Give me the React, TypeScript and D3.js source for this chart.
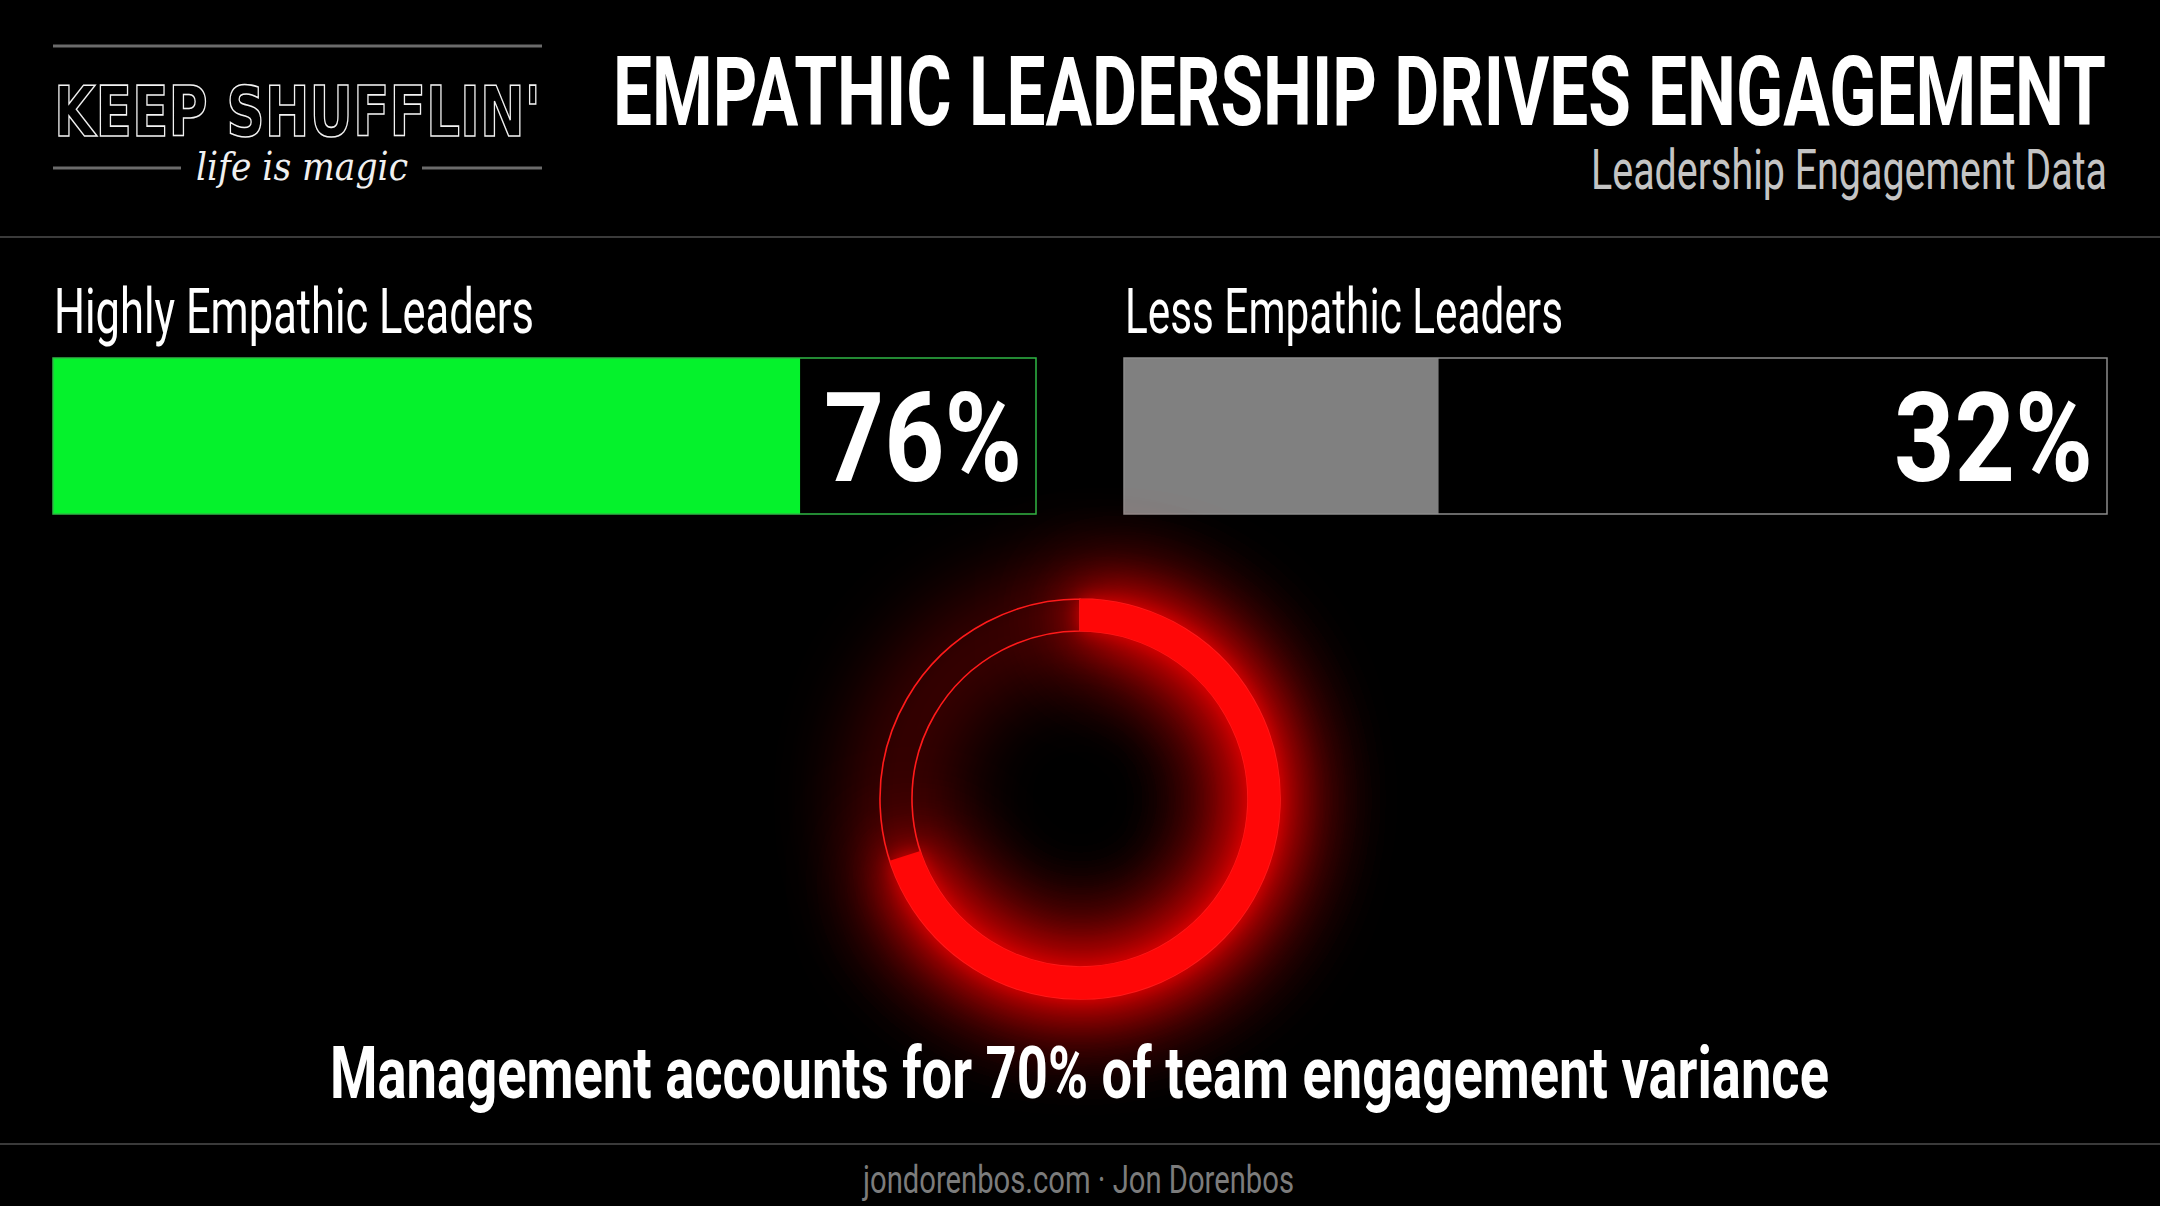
import React, { useEffect } from "react";
import * as d3 from "d3";

// ---- data ----
const groupLabels = ["Highly Empathic Leaders", "Less Empathic Leaders"];
const engagementPct = [76, 32];
const groupColors = ["#05f22c", "#808080"];
const groupBorders = ["#2fb845", "#8c8c8c"];
const varianceShare = [70];
const titleText = "EMPATHIC LEADERSHIP DRIVES ENGAGEMENT";
const subtitleText = "Leadership Engagement Data";
const captionText = "Management accounts for 70% of team engagement variance";
const footerText = "jondorenbos.com · Jon Dorenbos";

const W = 2160;
const H = 1206;
const FONT = "Roboto, 'Noto Sans', 'DejaVu Sans', sans-serif";

export default function App() {
  useEffect(() => {
    document.body.style.margin = "0";
    document.body.style.background = "#000";
  }, []);

  // bar layout
  const boxX = [53, 1124];
  const boxW = 983;
  const boxY = 358;
  const boxH = 156;
  const x = d3.scaleLinear().domain([0, 100]).range([0, boxW]);

  const labelW = [480, 438];
  const pctW = [198, 199];

  // donut
  const cx = 1080;
  const cy = 799;
  const rOuter = 200;
  const rInner = 168;
  const angle = d3.scaleLinear().domain([0, 100]).range([0, 2 * Math.PI]);
  const arcGen = d3.arc<any>().innerRadius(rInner).outerRadius(rOuter);
  const trackPath = arcGen({ startAngle: 0, endAngle: 2 * Math.PI - 0.0001 }) as string;
  const fillPath = arcGen({ startAngle: 0, endAngle: angle(varianceShare[0]) }) as string;

  return (
    <svg
      width={W}
      height={H}
      viewBox={`0 0 ${W} ${H}`}
      style={{ position: "absolute", left: 0, top: 0, background: "#000" }}
    >
      <defs>
        <filter id="glowHuge" x="-100%" y="-100%" width="300%" height="300%">
          <feGaussianBlur stdDeviation="50" />
          <feComponentTransfer>
            <feFuncA type="linear" slope="2.2" />
          </feComponentTransfer>
        </filter>
        <filter id="glowWide" x="-100%" y="-100%" width="300%" height="300%">
          <feGaussianBlur stdDeviation="24" />
          <feComponentTransfer>
            <feFuncA type="linear" slope="1.4" />
          </feComponentTransfer>
        </filter>
        <filter id="glowNear" x="-100%" y="-100%" width="300%" height="300%">
          <feGaussianBlur stdDeviation="8" />
        </filter>
      </defs>
      <rect x={0} y={0} width={W} height={H} fill="#000" />

      {/* logo */}
      <g>
        <line x1={53} x2={542} y1={46} y2={46} stroke="#6b6b6b" strokeWidth={3} />
        <text
          x={54}
          y={136}
          fontFamily="'DejaVu Sans', Verdana, sans-serif"
          fontWeight={700}
          fontSize={70}
          fill="none"
          stroke="#f2f2f2"
          strokeWidth={1.6}
          textLength={487}
          lengthAdjust="spacingAndGlyphs"
        >
          KEEP SHUFFLIN'
        </text>
        <line x1={53} x2={181} y1={168} y2={168} stroke="#6b6b6b" strokeWidth={3} />
        <line x1={422} x2={542} y1={168} y2={168} stroke="#6b6b6b" strokeWidth={3} />
        <text
          x={196}
          y={180}
          fontFamily="'DejaVu Serif', 'Liberation Serif', serif"
          fontStyle="italic"
          fontWeight={300}
          fontSize={40}
          fill="#f0f0f0"
          textLength={212}
          lengthAdjust="spacingAndGlyphs"
        >
          life is magic
        </text>
      </g>

      {/* title */}
      <text
        x={613}
        y={125}
        fontFamily={FONT}
        fontWeight={700}
        fontSize={96}
        fill="#ffffff"
        textLength={1493}
        lengthAdjust="spacingAndGlyphs"
      >
        {titleText}
      </text>
      <text
        x={1591}
        y={189}
        fontFamily={FONT}
        fontWeight={400}
        fontSize={55}
        fill="#c4c4c4"
        textLength={516}
        lengthAdjust="spacingAndGlyphs"
      >
        {subtitleText}
      </text>
      <line x1={0} x2={W} y1={237} y2={237} stroke="#3a3a3a" strokeWidth={2} />

      {/* bars */}
      {engagementPct.map((v, i) => (
        <g key={groupLabels[i]}>
          <text
            x={boxX[i] + 1}
            y={333}
            fontFamily={FONT}
            fontWeight={400}
            fontSize={63}
            fill="#ffffff"
            textLength={labelW[i]}
            lengthAdjust="spacingAndGlyphs"
          >
            {groupLabels[i]}
          </text>
          <rect x={boxX[i]} y={boxY} width={boxW} height={boxH} fill="#000" />
          <rect x={boxX[i]} y={boxY} width={x(v)} height={boxH} fill={groupColors[i]} />
          <rect
            x={boxX[i]}
            y={boxY}
            width={boxW}
            height={boxH}
            fill="none"
            stroke={groupBorders[i]}
            strokeWidth={1.5}
          />
          <text
            x={boxX[i] + boxW - 14 - pctW[i]}
            y={481}
            fontFamily={FONT}
            fontWeight={700}
            fontSize={125}
            fill="#ffffff"
            textLength={pctW[i]}
            lengthAdjust="spacingAndGlyphs"
          >
            {`${v}%`}
          </text>
        </g>
      ))}

      {/* donut */}
      <g transform={`translate(${cx},${cy})`}>
        <path d={trackPath} fill="#ff0000" opacity={0.35} filter="url(#glowHuge)" />
        <path d={fillPath} fill="#ff0000" opacity={0.75} filter="url(#glowHuge)" />
        <path d={fillPath} fill="#ff0000" opacity={0.7} filter="url(#glowWide)" />
        <path d={fillPath} fill="#ff0a0a" opacity={0.6} filter="url(#glowNear)" />
        <path d={trackPath} fill="none" stroke="#ff1a1a" strokeWidth={1.6} />
        <path d={fillPath} fill="#ff0707" />
      </g>

      {/* caption */}
      <text
        x={330}
        y={1098}
        fontFamily={FONT}
        fontWeight={700}
        fontSize={72}
        fill="#ffffff"
        textLength={1499}
        lengthAdjust="spacingAndGlyphs"
      >
        {captionText}
      </text>

      {/* footer */}
      <line x1={0} x2={W} y1={1144} y2={1144} stroke="#3a3a3a" strokeWidth={2} />
      <text
        x={863}
        y={1193}
        fontFamily={FONT}
        fontWeight={400}
        fontSize={39}
        fill="#7c7c7c"
        textLength={431}
        lengthAdjust="spacingAndGlyphs"
      >
        {footerText}
      </text>
    </svg>
  );
}
